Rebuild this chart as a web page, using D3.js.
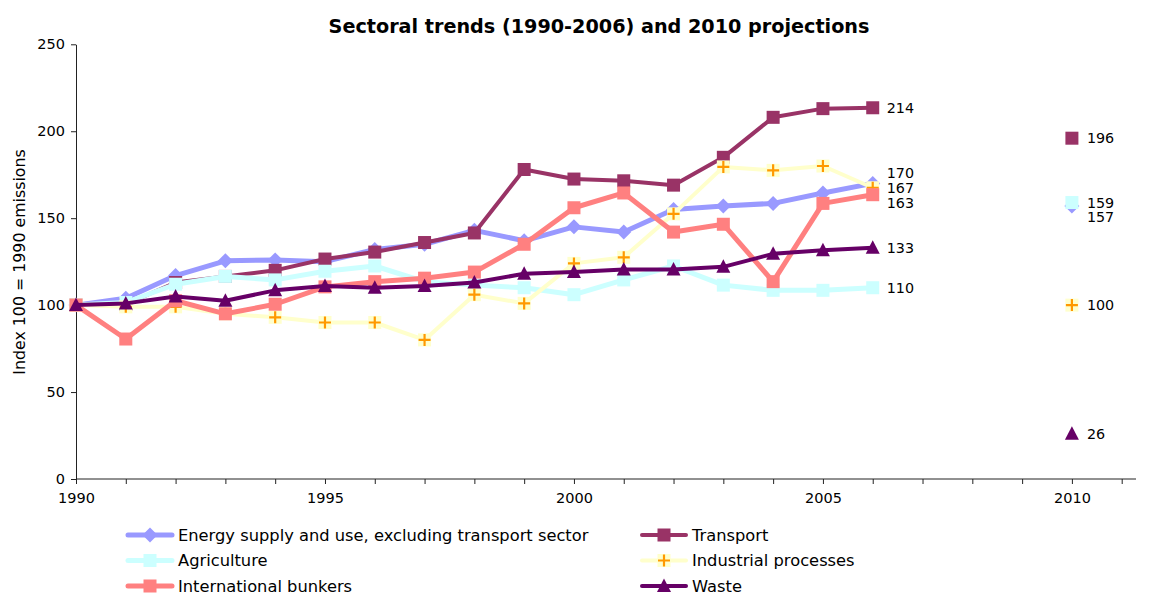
<!DOCTYPE html>
<html><head><meta charset="utf-8">
<script src="https://cdn.jsdelivr.net/npm/d3@7"></script>
<style>
html,body{margin:0;padding:0;background:#fff;}
svg{display:block;font-family:"DejaVu Sans",Verdana,sans-serif;}
svg text{font-family:"DejaVu Sans",Verdana,sans-serif;}
</style></head>
<body><svg id="chart" width="1158" height="596"></svg>
<script>
const years = [1990,1991,1992,1993,1994,1995,1996,1997,1998,1999,2000,2001,2002,2003,2004,2005,2006];
const energy     = [100,104,117,125.5,126,125,132,135,143,137,145,142,155,157,158.5,164.5,170];
const transport  = [100,100.5,113,116.5,120,126.5,130.5,136,141.5,178,172.5,171.5,169,185,208,213,213.5];
const agriculture= [100,101.5,112,116.5,114.5,119.5,122.5,113.5,111.5,110,106,114.5,122.5,111.5,108.5,108.5,110];
const industrial = [100,99,99,95,93,90,90,80,106,101,124,127.5,152.5,179.5,177.5,180,167.5];
const bunkers    = [100,80.5,102.5,95,100.5,110.5,113.5,115.5,119,135,156,164.5,142,146.5,113.5,158.5,163.5];
const waste      = [100,101,105,102.5,108.5,111,110,111,113,118,119,120.5,120.5,122,129.5,131.5,133];
const projYear = 2010;
const projections = {energy:157, transport:196, agriculture:159, industrial:100, waste:26};
const endLabels = {energy:"170", transport:"214", agriculture:"110", industrial:"167", bunkers:"163", waste:"133"};
const yTicks = [0,50,100,150,200,250];
const xLabelYears = [1990,1995,2000,2005,2010];
const seriesNames = ["Energy supply and use, excluding transport sector","Transport","Agriculture","Industrial processes","International bunkers","Waste"];

const series = [
  {key:"energy", name:seriesNames[0], values:energy, line:"#9999FF", fill:"#9999FF", marker:"diamond", lw:5},
  {key:"transport", name:seriesNames[1], values:transport, line:"#993366", fill:"#993366", marker:"square", lw:4},
  {key:"agriculture", name:seriesNames[2], values:agriculture, line:"#CCFFFF", fill:"#CCFFFF", marker:"square", lw:5},
  {key:"industrial", name:seriesNames[3], values:industrial, line:"#FFFFCC", fill:"#FF9900", marker:"plus", lw:4},
  {key:"bunkers", name:seriesNames[4], values:bunkers, line:"#FF8080", fill:"#FF8080", marker:"square", lw:5},
  {key:"waste", name:seriesNames[5], values:waste, line:"#660066", fill:"#660066", marker:"triangle", lw:4}
];

const svg = d3.select("#chart");
const x = d3.scaleLinear().domain([1990,2011]).range([76,1121.7]);
const y = d3.scaleLinear().domain([0,250]).range([479,44.3]);

// title
svg.append("text").attr("x",599).attr("y",33).attr("text-anchor","middle")
  .style("font-size","19.2px").style("font-weight","bold").text("Sectoral trends (1990-2006) and 2010 projections");

// y axis
const yAxis = d3.axisLeft(y).tickValues(yTicks).tickSize(5).tickSizeOuter(0);
const gy = svg.append("g").attr("transform","translate(76,0)").call(yAxis);
gy.attr("font-family",null).attr("font-size",null);
gy.selectAll("text").style("font-size","14.5px").attr("fill","#000").attr("x",-11);
gy.selectAll("line").attr("stroke","#222");
gy.select(".domain").attr("stroke","#222");

// x axis
const allYears = d3.range(1990,2012);
const xAxis = d3.axisBottom(x).tickValues(allYears).tickSize(5).tickSizeOuter(0)
  .tickFormat(d => xLabelYears.includes(d) ? String(d) : "");
const gx = svg.append("g").attr("transform","translate(0,479)").call(xAxis);
gx.attr("font-family",null).attr("font-size",null);
gx.select(".domain").remove();
gx.append("line").attr("x1",76).attr("x2",1136).attr("y1",0).attr("y2",0).attr("stroke","#222");
gx.selectAll("text").style("font-size","14.5px").attr("fill","#000").attr("y",14).attr("dy","0.71em");
gx.selectAll(".tick line").attr("stroke","#222");

// y label
svg.append("text").attr("transform","translate(25,262) rotate(-90)").attr("text-anchor","middle")
  .style("font-size","15.8px").text("Index 100 = 1990 emissions");

function marker(g, s, cx, cy){
  if(s.marker==="diamond"){
    g.append("path").attr("d",`M${cx},${cy-7.5}L${cx+7.5},${cy}L${cx},${cy+7.5}L${cx-7.5},${cy}Z`).attr("fill",s.fill);
  } else if(s.marker==="square"){
    g.append("rect").attr("x",cx-6.5).attr("y",cy-6.5).attr("width",13).attr("height",13).attr("fill",s.fill);
  } else if(s.marker==="triangle"){
    g.append("path").attr("d",`M${cx},${cy-7.5}L${cx+7},${cy+6}L${cx-7},${cy+6}Z`).attr("fill",s.fill);
  } else if(s.marker==="plus"){
    g.append("rect").attr("x",cx-6.5).attr("y",cy-6.5).attr("width",13).attr("height",13).attr("fill",s.line);
    g.append("path").attr("d",`M${cx-6},${cy}H${cx+6}M${cx},${cy-6}V${cy+6}`).attr("stroke",s.fill).attr("stroke-width",2.2);
  }
}

const plot = svg.append("g");
const line = d3.line().x((d,i)=>x(years[i])).y(d=>y(d));
series.forEach(s=>{
  const g = plot.append("g");
  g.append("path").attr("d",line(s.values)).attr("fill","none").attr("stroke",s.line)
    .attr("stroke-width",s.lw).attr("stroke-linejoin","round");
  s.values.forEach((v,i)=>marker(g,s,x(years[i]),y(v)));
  if(projections[s.key]!==undefined) marker(g,s,x(projYear),y(projections[s.key]));
});

// labels at end of 2006 and 2010
const nudge2006 = {energy:-10.5, bunkers:8};
const nudge2010 = {energy:11};
const lab = svg.append("g");
series.forEach(s=>{
  const v = s.values[s.values.length-1];
  lab.append("text").attr("x",x(2006)+14).attr("y",y(v)+(nudge2006[s.key]||0)).attr("dy","0.35em")
    .style("font-size","14.3px").text(endLabels[s.key]);
  if(projections[s.key]!==undefined){
    const pv = projections[s.key];
    lab.append("text").attr("x",x(projYear)+15).attr("y",y(pv)+(nudge2010[s.key]||0)).attr("dy","0.35em")
      .style("font-size","14.3px").text(String(pv));
  }
});

// legend
const legend = svg.append("g");
const legPos = [[128,535],[642,535],[128,560.5],[642,560.5],[128,586],[642,586]];
series.forEach((s,i)=>{
  const [lx,ly] = legPos[i];
  const g = legend.append("g");
  g.append("line").attr("x1",lx).attr("x2",lx+44).attr("y1",ly).attr("y2",ly).attr("stroke",s.line).attr("stroke-width",s.lw).attr("stroke-linecap","round");
  marker(g,s,lx+22,ly);
  g.append("text").attr("x",lx+50).attr("y",ly).attr("dy","0.36em").style("font-size","16.3px").text(s.name);
});
</script></body></html>
